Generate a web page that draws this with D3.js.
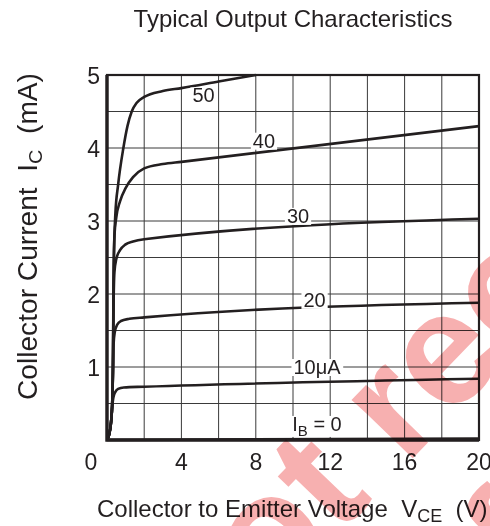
<!DOCTYPE html>
<html>

<head>
	<meta charset="UTF-8" />
	<title>Typical Output Characteristics</title>
	<script src="https://d3js.org/d3.v7.min.js"></script>
	<style>
		body {
			margin: 0;
			background: #fff;
		}

		text {
			font-family: "Liberation Sans", Arial, sans-serif;
			fill: #231f20;
		}

		.watermark text {
			font-weight: bold;
			fill: #f7b0b0;
		}
	</style>
</head>

<body>
	<div id="main"></div>

	<script type="text/javascript">
		// data
		var xTicks = [0, 4, 8, 12, 16, 20];
		var yTicks = [1, 2, 3, 4, 5];
		var curveIB0 = [[0, 0], [20, 0.02]];
		var curveIB10 = [[0, 0], [0.12, 0.08], [0.22, 0.25], [0.28, 0.45], [0.34, 0.58], [0.45, 0.66], [0.6, 0.7], [0.9, 0.72], [2, 0.73], [20, 0.84]];
		var curveIB20 = [[0, 0], [0.12, 0.08], [0.22, 0.25], [0.28, 0.5], [0.32, 0.9], [0.35, 1.3], [0.42, 1.48], [0.55, 1.58], [0.75, 1.63], [1.2, 1.66], [2, 1.68], [20, 1.88]];
		var curveIB30 = [[0, 0], [0.12, 0.08], [0.22, 0.25], [0.28, 0.5], [0.32, 1.0], [0.35, 1.8], [0.4, 2.3], [0.5, 2.48], [0.7, 2.6], [1.0, 2.68], [1.4, 2.72], [2, 2.75], [20, 3.03]];
		var curveIB40 = [[0, 0], [0.12, 0.08], [0.22, 0.25], [0.28, 0.5], [0.32, 1.0], [0.35, 2.0], [0.4, 2.8], [0.5, 3.05], [0.7, 3.27], [1.0, 3.45], [1.4, 3.6], [2, 3.72], [3, 3.78], [4, 3.81], [20, 4.30]];
		var curveIB50 = [[0, 0], [0.12, 0.08], [0.22, 0.25], [0.28, 0.5], [0.32, 1.0], [0.35, 2.2], [0.4, 2.8], [0.45, 3.1], [0.6, 3.5], [0.88, 4.0], [1.1, 4.3], [1.33, 4.5], [1.6, 4.62], [2, 4.7], [3, 4.78], [4, 4.82], [6, 4.91], [8, 5.0]];
		var curves = [curveIB0, curveIB10, curveIB20, curveIB30, curveIB40, curveIB50];
		var curveLabels = ['I_B = 0', '10\u03bcA', '20', '30', '40', '50'];
		var labelAt = [[11.29, 0.22], [11.29, 1.0], [11.16, 1.92], [10.27, 3.07], [8.44, 4.10], [5.19, 4.72]];
		var watermarkLines = ['Not recommended', 'for new design'];

		var width = 490, height = 526;
		var svg = d3.select('#main').append('svg').attr('width', width).attr('height', height);

		var x = d3.scaleLinear().domain([0, 20]).range([107, 479]);
		var y = d3.scaleLinear().domain([0, 5]).range([440, 75]);

		// grid
		var grid = svg.append('g').attr('stroke', '#3a3a3a').attr('stroke-width', 1);
		grid.selectAll('.gx').data(x.ticks(10)).enter().append('line')
			.attr('x1', d => x(d)).attr('x2', d => x(d)).attr('y1', y(0)).attr('y2', y(5));
		grid.selectAll('.gy').data(y.ticks(10)).enter().append('line')
			.attr('y1', d => y(d)).attr('y2', d => y(d)).attr('x1', x(0)).attr('x2', x(20));

		// curves
		var line = d3.line().x(d => x(d[0])).y(d => y(d[1])).curve(d3.curveMonotoneX);
		svg.append('g').selectAll('path').data(curves).enter().append('path')
			.attr('d', line).attr('fill', 'none').attr('stroke', '#231f20').attr('stroke-width', 2.6);

		// curve labels with white box behind
		var lab = svg.append('g').selectAll('g').data(curveLabels).enter().append('g')
			.attr('transform', (d, i) => 'translate(' + x(labelAt[i][0]) + ',' + y(labelAt[i][1]) + ')');
		lab.append('rect').attr('fill', '#fff');
		lab.append('text').attr('text-anchor', 'middle').attr('dy', 7).attr('font-size', 20)
			.each(function (d) {
				var t = d3.select(this);
				if (d.indexOf('_') > 0) {
					t.append('tspan').text('I');
					t.append('tspan').attr('font-size', 15).attr('dy', 5).text('B');
					t.append('tspan').attr('dy', -5).text(' = 0');
				} else {
					t.text(d);
				}
			});
		lab.each(function () {
			var g = d3.select(this), b = g.select('text').node().getBBox();
			g.select('rect').attr('x', b.x - 2).attr('y', b.y + 3).attr('width', b.width + 4).attr('height', b.height - 5);
		});

		// frame
		svg.append('rect').attr('x', x(0)).attr('y', y(5)).attr('width', x(20) - x(0)).attr('height', y(0) - y(5))
			.attr('fill', 'none').attr('stroke', '#231f20').attr('stroke-width', 2.2);
		svg.append('path').attr('d', 'M' + x(0) + ',' + y(5) + 'V' + y(0) + 'H' + x(20))
			.attr('fill', 'none').attr('stroke', '#231f20').attr('stroke-width', 3.4);

		// tick labels
		svg.append('g').selectAll('text').data(xTicks).enter().append('text')
			.attr('x', d => d === 0 ? 91 : x(d)).attr('y', 470).attr('text-anchor', 'middle').attr('font-size', 23)
			.text(d => d);
		svg.append('g').selectAll('text').data(yTicks).enter().append('text')
			.attr('x', 100).attr('y', d => y(d) + 9).attr('text-anchor', 'end').attr('font-size', 23)
			.text(d => d);

		// titles
		svg.append('text').attr('x', 293).attr('y', 27).attr('text-anchor', 'middle').attr('font-size', 24)
			.text('Typical Output Characteristics');

		var xt = svg.append('text').attr('x', 97).attr('y', 517).attr('font-size', 24);
		xt.append('tspan').text('Collector to Emitter Voltage\u00a0\u00a0V');
		xt.append('tspan').attr('font-size', 18).attr('dy', 5).text('CE');
		xt.append('tspan').attr('dy', -5).text('\u00a0\u00a0(V)');

		var yt = svg.append('text').attr('transform', 'translate(37,400) rotate(-90)').attr('font-size', 27)
			.attr('textLength', 327).attr('lengthAdjust', 'spacingAndGlyphs');
		yt.append('tspan').text('Collector Current\u00a0\u00a0I');
		yt.append('tspan').attr('font-size', 19).attr('dy', 5).text('C');
		yt.append('tspan').attr('dy', -5).text('\u00a0\u00a0(mA)');

		// pink watermark over the lower right
		var wm = svg.append('g').attr('class', 'watermark').style('mix-blend-mode', 'multiply')
			.attr('transform', 'translate(189,690) rotate(-46)');
		wm.selectAll('text').data(watermarkLines).enter().append('text')
			.attr('font-size', 160).attr('x', (d, i) => i * 304).attr('y', (d, i) => i * 184)
			.text(d => d);
	</script>
</body>

</html>
